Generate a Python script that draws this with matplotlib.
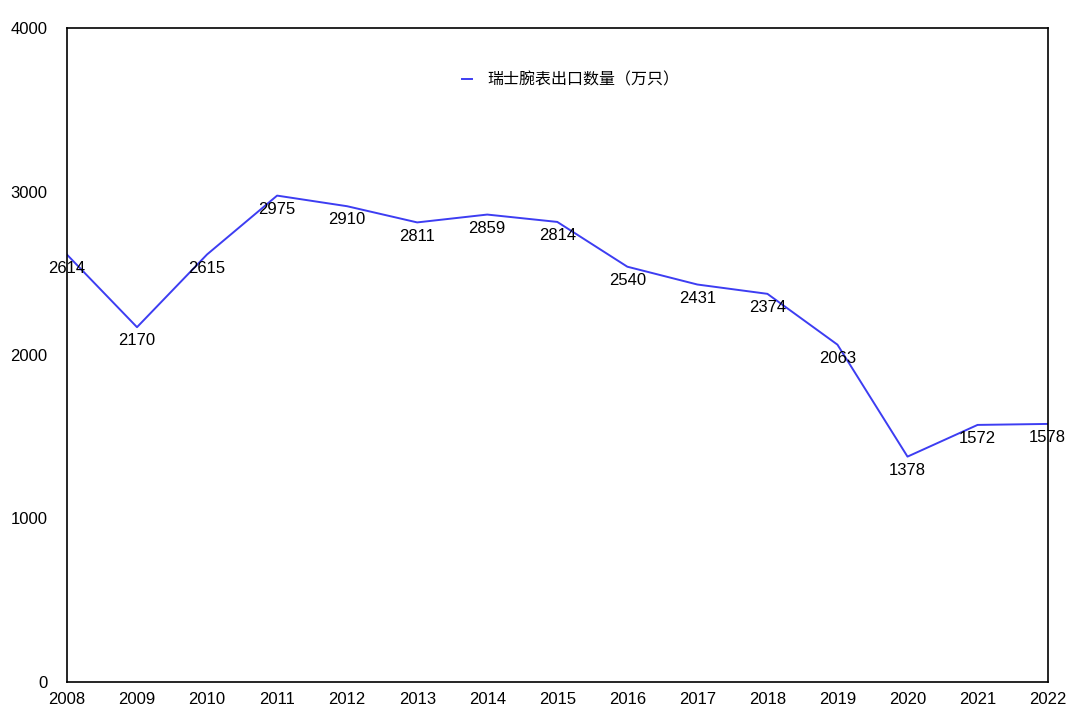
import matplotlib
matplotlib.use("Agg")
from matplotlib import pyplot as plt

plt.rcParams['font.family'] = ['Liberation Sans', 'Noto Sans CJK SC', 'DejaVu Sans']

years = [2008, 2009, 2010, 2011, 2012, 2013, 2014, 2015, 2016, 2017, 2018, 2019, 2020, 2021, 2022]
exports = [2614, 2170, 2615, 2975, 2910, 2811, 2859, 2814, 2540, 2431, 2374, 2063, 1378, 1572, 1578]
series_name = '瑞士腕表出口数量（万只）'

fig = plt.figure(figsize=(10.8, 7.2), dpi=100)
ax = fig.add_axes([0.062, 0.053, 0.908, 0.908])

ax.plot(years, exports, color='#3d3df2', lw=1.4, label=series_name)
for x, y in zip(years, exports):
    ax.annotate(str(y), (x, y), xytext=(0, -4.5), textcoords='offset points',
                ha='center', va='top', fontsize=12)

ax.set_xlim(years[0], years[-1])
ax.set_ylim(0, 4000)
ax.set_xticks(years)
ax.set_yticks([0, 1000, 2000, 3000, 4000])
ax.tick_params(length=0, labelsize=12)
ax.tick_params(axis='y', pad=14)
ax.tick_params(axis='x', pad=7)
for s in ax.spines.values():
    s.set_linewidth(1.2)

leg = ax.legend(loc='upper center', bbox_to_anchor=(0.514, 0.955), frameon=False,
                fontsize=11.5, handlelength=0.6, handletextpad=1.0)
for t in leg.get_texts():
    t.set_family(['Noto Sans CJK SC', 'DejaVu Sans'])

fig.savefig('out.png')
